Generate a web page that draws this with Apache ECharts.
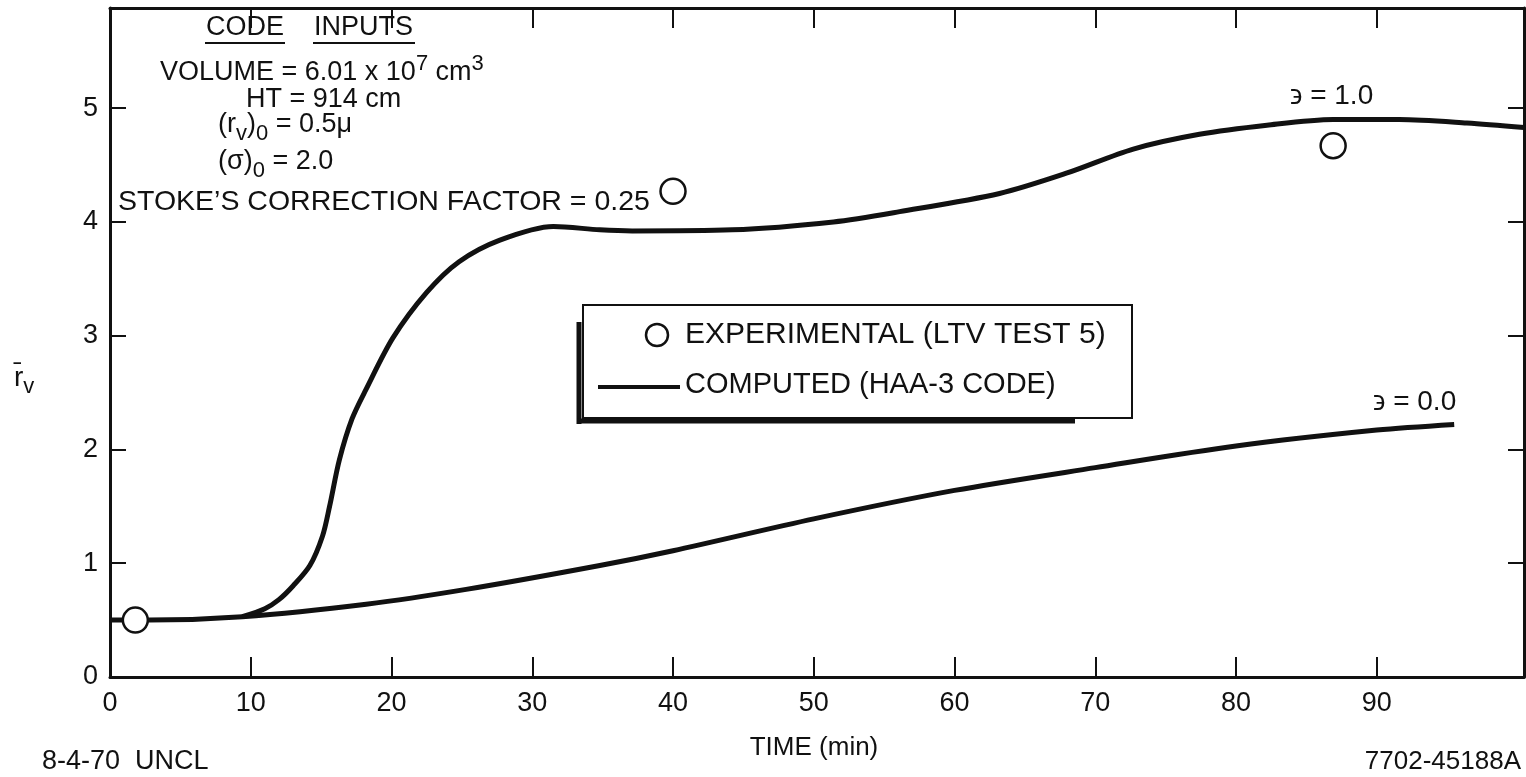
<!DOCTYPE html>
<html>
<head>
<meta charset="utf-8">
<script src="https://cdn.jsdelivr.net/npm/echarts@6/dist/echarts.min.js"></script>
<style>
  html, body { margin: 0; padding: 0; background: #fff; }
  #chart { width: 1526px; height: 777px; }
</style>
</head>
<body>
<div id="chart"></div>
<script>
// values: [time (min), mean radius]
const experimental = [[1.8, 0.5], [40, 4.27], [86.9, 4.67]];
const computedEps1 = [
  [9.4, 0.53], [11, 0.6], [12, 0.68], [13, 0.8], [14.2, 0.98], [15.1, 1.24],
  [15.6, 1.5], [16.3, 1.91], [17.2, 2.27], [18.2, 2.53], [20.1, 2.98],
  [22.5, 3.38], [24.8, 3.65], [27.7, 3.84], [31.5, 3.96], [34.8, 3.93],
  [37.1, 3.92], [44.2, 3.93], [51.4, 4.0], [56.1, 4.09], [63.2, 4.25],
  [68, 4.43], [72.7, 4.64], [77.4, 4.77], [82.2, 4.85], [86.9, 4.9],
  [91.6, 4.9], [96.4, 4.87], [100.46, 4.83]
];
const computedEps0 = [
  [0, 0.5], [2.8, 0.5], [9.4, 0.53], [18.2, 0.64], [25.3, 0.77], [34.8, 0.98],
  [40, 1.11], [50, 1.39], [60, 1.64], [70, 1.84], [80, 2.03], [90, 2.17],
  [95.5, 2.22]
];
const xTicks = [10, 20, 30, 40, 50, 60, 70, 80, 90];
const xLabels = [0, 10, 20, 30, 40, 50, 60, 70, 80, 90];
const yTicks = [1, 2, 3, 4, 5];
const yLabels = [0, 1, 2, 3, 4, 5];

const FONT = '"Liberation Sans", Arial, sans-serif';
const INK = '#111';

const chart = echarts.init(document.getElementById('chart'));

function txt(text, x, y, size, extra) {
  return {
    type: 'text',
    z: 10,
    style: Object.assign({
      text: text, x: x, y: y,
      fontSize: size, fontFamily: FONT, fill: INK,
      align: 'left', verticalAlign: 'middle'
    }, extra || {})
  };
}
function seg(x1, y1, x2, y2, w) {
  return {
    type: 'line', z: 10,
    shape: { x1: x1, y1: y1, x2: x2, y2: y2 },
    style: { stroke: INK, lineWidth: w }
  };
}
const supSub = {
  sup: { fontSize: 22, fontFamily: FONT, fill: INK, padding: [0, 0, 18, 0] },
  sub: { fontSize: 22, fontFamily: FONT, fill: INK, padding: [18, 0, 0, 0] }
};

chart.setOption({
  animation: false,
  backgroundColor: '#fff',
  grid: { left: 110, right: 2, top: 8, bottom: 100 },
  xAxis: [{
    type: 'value', min: 0, max: 100.46, interval: 10,
    axisLine: { lineStyle: { color: INK, width: 3 } },
    axisTick: { inside: true, length: 20, customValues: xTicks, lineStyle: { color: INK, width: 2 } },
    axisLabel: { customValues: xLabels, color: INK, fontSize: 27, fontFamily: FONT, margin: 13 },
    splitLine: { show: false }
  }, {
    type: 'value', position: 'top', min: 0, max: 100.46, interval: 10,
    axisLine: { onZero: false, lineStyle: { color: INK, width: 3 } },
    axisTick: { inside: true, length: 20, customValues: xTicks, lineStyle: { color: INK, width: 2 } },
    axisLabel: { show: false },
    splitLine: { show: false }
  }],
  yAxis: [{
    type: 'value', min: 0, max: 5.88, interval: 1,
    axisLine: { show: true, lineStyle: { color: INK, width: 3 } },
    axisTick: { show: true, inside: true, length: 16, customValues: yTicks, lineStyle: { color: INK, width: 2 } },
    axisLabel: { customValues: yLabels, color: INK, fontSize: 27, fontFamily: FONT, margin: 12 },
    splitLine: { show: false }
  }, {
    type: 'value', position: 'right', min: 0, max: 5.88, interval: 1,
    axisLine: { show: true, onZero: false, lineStyle: { color: INK, width: 3 } },
    axisTick: { show: true, inside: true, length: 16, customValues: yTicks, lineStyle: { color: INK, width: 2 } },
    axisLabel: { show: false },
    splitLine: { show: false }
  }],
  series: [{
    name: '϶ = 0.0',
    type: 'line', data: computedEps0, smooth: 0.3, showSymbol: false,
    lineStyle: { color: INK, width: 5 }, z: 3
  }, {
    name: '϶ = 1.0',
    type: 'line', data: computedEps1, smooth: 0.3, showSymbol: false,
    lineStyle: { color: INK, width: 5 }, z: 3
  }, {
    name: 'EXPERIMENTAL (LTV TEST 5)',
    type: 'scatter', data: experimental, symbol: 'circle', symbolSize: 25,
    itemStyle: { color: '#fff', borderColor: INK, borderWidth: 2.5, opacity: 1 }, z: 5
  }],
  graphic: [
    // code inputs block
    txt('CODE', 206, 28, 27),
    txt('INPUTS', 314, 28, 27),
    seg(205, 43, 285, 43, 2),
    seg(313, 43, 415, 43, 2),
    txt('VOLUME = 6.01 x 10{sup|7} cm{sup|3}', 160, 73, 27, { rich: supSub }),
    txt('HT = 914 cm', 246, 100, 27),
    txt('(r{sub|v}){sub|0} = 0.5\u03bc', 218, 125, 27, { rich: supSub }),
    txt('(\u03c3){sub|0} = 2.0', 218, 162, 27, { rich: supSub }),
    txt('STOKE\u2019S CORRECTION FACTOR = 0.25', 118, 202, 28.5),
    // curve labels
    txt('\u03f6 = 1.0', 1290, 96, 28),
    txt('\u03f6 = 0.0', 1373, 402, 28),
    // legend box
    {
      type: 'rect', z: 8,
      shape: { x: 583, y: 305, width: 549, height: 113 },
      style: { fill: '#fff', stroke: INK, lineWidth: 2 }
    },
    seg(579, 322, 579, 424, 5),
    seg(577, 421, 1075, 421, 5),
    {
      type: 'circle', z: 10,
      shape: { cx: 657, cy: 335, r: 11 },
      style: { fill: '#fff', stroke: INK, lineWidth: 2.5 }
    },
    txt('EXPERIMENTAL (LTV TEST 5)', 685, 335, 30),
    seg(598, 387, 680, 387, 4),
    txt('COMPUTED (HAA-3 CODE)', 685, 385, 29),
    // axis titles and footer
    txt('r\u0304{sub|v}', 14, 378, 28, { rich: supSub }),
    txt('TIME (min)', 814, 748, 26, { align: 'center' }),
    txt('8-4-70  UNCL', 42, 762, 27),
    txt('7702-45188A', 1521, 762, 26, { align: 'right' })
  ]
});
</script>
</body>
</html>
